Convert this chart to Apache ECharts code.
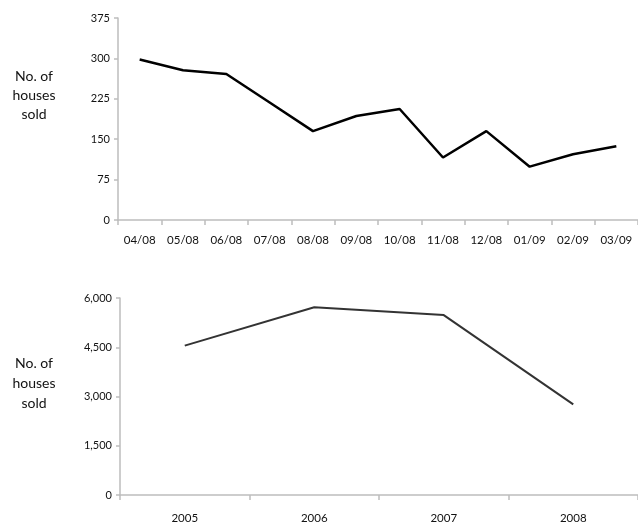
<!DOCTYPE html>
<html>
<head>
<meta charset="utf-8">
<script src="https://cdn.jsdelivr.net/npm/echarts@6/dist/echarts.min.js"></script>
<style>
  html, body { margin: 0; padding: 0; background: #fff; }
  #main { width: 638px; height: 527px; }
</style>
</head>
<body>
<div id="main"></div>
<script>
// monthly sales, 04/08 - 03/09
var months = ['04/08', '05/08', '06/08', '07/08', '08/08', '09/08', '10/08', '11/08', '12/08', '01/09', '02/09', '03/09'];
var monthlySold = [298, 278, 271, 218, 165, 193, 206, 116, 165, 99, 122, 137];

// yearly sales
var years = ['2005', '2006', '2007', '2008'];
var yearlySold = [4550, 5720, 5480, 2760];

var yName = 'No. of\nhouses\nsold';
var font = 'Lato, "Open Sans", sans-serif';

var myChart = echarts.init(document.getElementById('main'));

function xAxisOf(idx, data, margin) {
  return {
    type: 'category',
    gridIndex: idx,
    data: data,
    boundaryGap: true,
    axisLine: { lineStyle: { color: '#bdbdbd', width: 1.5 } },
    axisTick: { show: true, length: 5, lineStyle: { color: '#bdbdbd', width: 1.5 } },
    axisLabel: { color: '#111', fontSize: 11.5, fontFamily: font, margin: margin, interval: 0 },
    splitLine: { show: false }
  };
}

function yAxisOf(idx, max, step) {
  return {
    type: 'value',
    gridIndex: idx,
    min: 0,
    max: max,
    interval: step,
    axisLine: { show: true, lineStyle: { color: '#bdbdbd', width: 1.5 } },
    axisTick: { show: true, length: 4, lineStyle: { color: '#bdbdbd', width: 1.5 } },
    axisLabel: {
      color: '#111', fontSize: 11, fontFamily: font, margin: 8,
      formatter: function (v) { return v.toLocaleString('en-US'); }
    },
    splitLine: { show: false }
  };
}

function nameText(cx, cy, lh) {
  return {
    type: 'text', x: cx, y: cy,
    style: {
      text: yName, fontSize: 14, fontFamily: font, fill: '#111',
      align: 'center', textAlign: 'center', verticalAlign: 'middle', textVerticalAlign: 'middle',
      lineHeight: lh
    }
  };
}

var option = {
  animation: false,
  backgroundColor: '#fff',
  grid: [
    { left: 118, top: 18, width: 525, height: 202 },
    { left: 120, top: 298, width: 523, height: 197 }
  ],
  xAxis: [xAxisOf(0, months, 14), xAxisOf(1, years, 17)],
  yAxis: [yAxisOf(0, 375, 75), yAxisOf(1, 6000, 1500)],
  graphic: [nameText(34, 95, 19), nameText(34, 383, 20)],
  series: [
    {
      type: 'line',
      xAxisIndex: 0,
      yAxisIndex: 0,
      data: monthlySold,
      symbol: 'none',
      lineStyle: { color: '#000', width: 2.5 }
    },
    {
      type: 'line',
      xAxisIndex: 1,
      yAxisIndex: 1,
      data: yearlySold,
      symbol: 'none',
      lineStyle: { color: '#333', width: 2 }
    }
  ]
};

myChart.setOption(option);
</script>
</body>
</html>
